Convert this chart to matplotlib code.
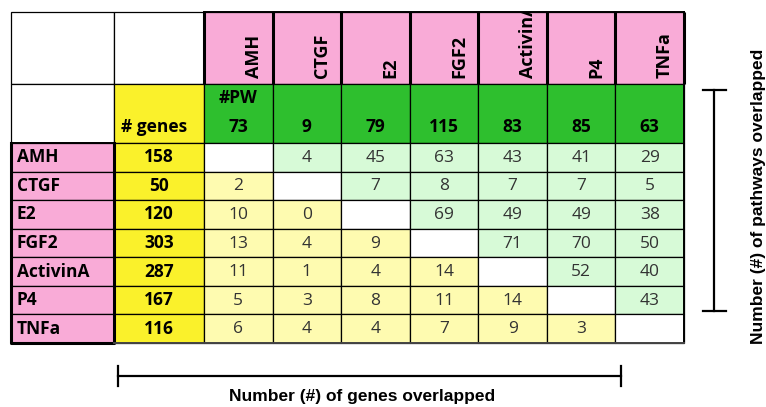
import matplotlib
matplotlib.use("Agg")
import matplotlib.pyplot as plt
from matplotlib.patches import Rectangle

# ---------------- data ----------------
drivers = ["AMH", "CTGF", "E2", "FGF2", "ActivinA", "P4", "TNFa"]
n_genes = [158, 50, 120, 303, 287, 167, 116]
n_pathways = [73, 9, 79, 115, 83, 85, 63]
# upper triangle: number of pathways overlapped (row i, columns j>i)
pathways_upper = [
    [4, 45, 63, 43, 41, 29],
    [7, 8, 7, 7, 5],
    [69, 49, 49, 38],
    [71, 70, 50],
    [52, 40],
    [43],
    [],
]
# lower triangle: number of genes overlapped (row i, columns j<i)
genes_lower = [
    [],
    [2],
    [10, 0],
    [13, 4, 9],
    [11, 1, 4, 14],
    [5, 3, 8, 11, 14],
    [6, 4, 4, 7, 9, 3],
]
genes_label = "# genes"
pw_label = "#PW"
xlabel = "Number (#) of genes overlapped"
ylabel = "Number (#) of pathways overlapped"

# ---------------- style ----------------
PINK = "#F9ABD7"
GREEN = "#2EBF2E"
YELLOW = "#FAF12B"
LGREEN = "#D7FAD7"
LYELLOW = "#FEFBB0"
WHITE = "#FFFFFF"
TXT = "#333333"
FONT = "Open Sans"

fig = plt.figure(figsize=(7.66, 4.07), dpi=100)
ax = fig.add_axes([0, 0, 1, 1])
ax.set_xlim(0, 766)
ax.set_ylim(407, 0)
ax.axis("off")

n = len(drivers)
x0, x1, x2, xr = 11, 114, 204, 684
cw = (xr - x2) / n
xe = [x0, x1] + [x2 + i * cw for i in range(n + 1)]
y0, y1, y2, yb = 12, 84, 143, 343
rh = (yb - y2) / n
ye = [y0, y1] + [y2 + i * rh for i in range(n + 1)]

thin = 0.9
thick = 2.2


def cell(c, r, color, lw=thin):
    rect = Rectangle((xe[c], ye[r]), xe[c + 1] - xe[c], ye[r + 1] - ye[r],
                     facecolor=color, edgecolor="black", linewidth=lw, zorder=1)
    ax.add_patch(rect)
    return rect


def cx(c):
    return (xe[c] + xe[c + 1]) / 2


def cy(r):
    return (ye[r] + ye[r + 1]) / 2


# header row 0
cell(0, 0, WHITE)
cell(1, 0, WHITE)
for j, name in enumerate(drivers):
    rect = cell(j + 2, 0, PINK)
    t = ax.text(xe[j + 3] - 10, 78, name, rotation=90, ha="right", va="bottom",
                fontsize=13, fontweight="bold", family=FONT, color="black",
                zorder=5, clip_on=True)
    t.set_clip_path(rect)

# header row 1
cell(0, 1, WHITE)
cell(1, 1, YELLOW)
ax.text(154, 127, genes_label, ha="center", va="center", fontsize=12.5,
        fontweight="bold", family=FONT, color="black", zorder=5)
for j, v in enumerate(n_pathways):
    cell(j + 2, 1, GREEN)
    ax.text(cx(j + 2), 127, str(v), ha="center", va="center", fontsize=12.5,
            fontweight="bold", family=FONT, color="black", zorder=5)
ax.text(cx(2), 98, pw_label, ha="center", va="center", fontsize=12.5,
        fontweight="bold", family=FONT, color="black", zorder=5)

# body
for i, name in enumerate(drivers):
    r = i + 2
    cell(0, r, PINK)
    ax.text(17, cy(r), name, ha="left", va="center", fontsize=12.5,
            fontweight="bold", family=FONT, color="black", zorder=5)
    cell(1, r, YELLOW)
    ax.text(cx(1), cy(r), str(n_genes[i]), ha="center", va="center", fontsize=12.5,
            fontweight="bold", family=FONT, color="black", zorder=5)
    for j in range(n):
        c = j + 2
        if j == i:
            cell(c, r, WHITE)
            continue
        if j > i:
            cell(c, r, LGREEN)
            v = pathways_upper[i][j - i - 1]
        else:
            cell(c, r, LYELLOW)
            v = genes_lower[i][j]
        ax.text(cx(c), cy(r) + 0.5, str(v), ha="center", va="center", fontsize=12.5,
                family=FONT, color=TXT, zorder=5)

# thick lines
for c in range(2, n + 3):
    ax.plot([xe[c], xe[c]], [y0, y1], color="black", lw=thick, zorder=6,
            solid_capstyle="butt")
ax.plot([x0, x0, x1, x1], [y2, yb, yb, y2], color="black", lw=thick, zorder=6)
ax.plot([x0, x1], [y2, y2], color="black", lw=1.4, zorder=6)
ax.plot([x2, xr], [y0, y0], color="black", lw=1.4, zorder=6)
ax.plot([xr, xr], [y0, yb], color="black", lw=1.4, zorder=6)
ax.plot([x1, xr], [yb, yb], color="#444444", lw=1.4, zorder=6)

# bottom bracket
bx0, bx1, by = 118, 621, 376
ax.plot([bx0, bx1], [by, by], color="black", lw=1.6)
ax.plot([bx0, bx0], [366, 386], color="black", lw=1.6)
ax.plot([bx1, bx1], [366, 386], color="black", lw=1.6)
ax.text(362, 396, xlabel, ha="center", va="center", fontsize=12.5,
        fontweight="bold", family="Liberation Sans", color="black")

# right bracket
rx, ry0, ry1 = 714, 90, 311
ax.plot([rx, rx], [ry0, ry1], color="black", lw=1.6)
ax.plot([703, 726], [ry0, ry0], color="black", lw=1.6)
ax.plot([703, 726], [ry1, ry1], color="black", lw=1.6)
ax.text(758, 196, ylabel, rotation=90, ha="center", va="center", fontsize=12.5,
        fontweight="bold", family="Liberation Sans", color="black")

fig.savefig("out.png", dpi=100)
